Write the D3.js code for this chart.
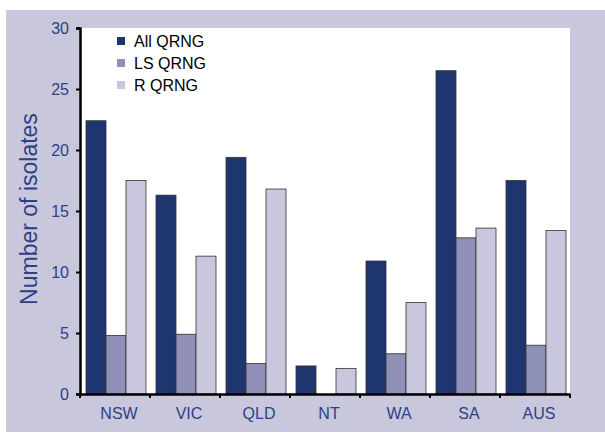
<!DOCTYPE html>
<html>
<head>
<meta charset="utf-8">
<script src="https://cdn.jsdelivr.net/npm/d3@7"></script>
<style>
body { margin: 0; background: #fff; }
text { font-family: "Liberation Sans", Arial, sans-serif; }
</style>
</head>
<body>
<div id="chart"></div>
<script>
var width = 605,
	height = 433;

var categories = ["NSW", "VIC", "QLD", "NT", "WA", "SA", "AUS"];
var seriesNames = ["All QRNG", "LS QRNG", "R QRNG"];
var allQrng = [22.4, 16.3, 19.4, 2.3, 10.9, 26.5, 17.5];
var lsQrng = [4.8, 4.9, 2.5, 0, 3.3, 12.8, 4.0];
var rQrng = [17.5, 11.3, 16.8, 2.1, 7.5, 13.6, 13.4];
var yTicks = [0, 5, 10, 15, 20, 25, 30];

var colors = ["#1f3570", "#8f90b7", "#c8c7dd"];
var series = [allQrng, lsQrng, rQrng];

var plot = {left: 80, right: 570, top: 28, bottom: 394};

var svg = d3.select("#chart").append("svg")
	.attr("width", width)
	.attr("height", height);

// lavender frame
svg.append("rect")
	.attr("x", 6)
	.attr("y", 10)
	.attr("width", width - 6)
	.attr("height", 422)
	.attr("fill", "#c8c7dc");

svg.append("rect")
	.attr("x", plot.left)
	.attr("y", plot.top)
	.attr("width", plot.right - plot.left)
	.attr("height", plot.bottom - plot.top)
	.attr("fill", "#fff");

var x = d3.scaleBand()
	.domain(categories)
	.range([plot.left, plot.right]);

var y = d3.scaleLinear()
	.domain([0, 30])
	.range([plot.bottom, plot.top]);

var sub = d3.scaleBand()
	.domain(d3.range(series.length))
	.range([6, x.bandwidth() - 4]);

var groups = svg.append("g")
	.selectAll("g")
	.data(categories)
	.enter()
	.append("g")
	.attr("transform", function(d) { return "translate(" + x(d) + ",0)"; });

groups.selectAll("rect")
	.data(function(d, i) {
		return series.map(function(s, k) { return {k: k, v: s[i]}; });
	})
	.enter()
	.append("rect")
	.attr("x", function(d) { return sub(d.k); })
	.attr("y", function(d) { return y(d.v); })
	.attr("width", sub.bandwidth())
	.attr("height", function(d) { return y(0) - y(d.v); })
	.attr("fill", function(d) { return colors[d.k]; })
	.attr("stroke", "#333")
	.attr("stroke-width", 0.8);

// y axis
var yAxis = svg.append("g")
	.attr("transform", "translate(" + plot.left + ",0)")
	.call(d3.axisLeft(y).tickValues(yTicks).tickSize(4).tickPadding(7));
yAxis.select(".domain").attr("stroke", "#000").attr("stroke-width", 2.5);
yAxis.selectAll(".tick line").attr("stroke", "#000").attr("stroke-width", 2);
yAxis.selectAll("text")
	.attr("fill", "#2e3f86")
	.style("font-size", "16px");

// x axis
var xAxis = svg.append("g")
	.attr("transform", "translate(0," + plot.bottom + ")")
	.call(d3.axisBottom(x).tickSize(0).tickPadding(14));
xAxis.select(".domain").attr("stroke", "#000").attr("stroke-width", 2.5);
xAxis.selectAll("text")
	.attr("dx", 4)
	.attr("fill", "#2e3f86")
	.style("font-size", "16px");

xAxis.selectAll("line.sep")
	.data(categories.concat(["end"]))
	.enter()
	.append("line")
	.attr("class", "sep")
	.attr("x1", function(d, i) { return plot.left + i * x.step(); })
	.attr("x2", function(d, i) { return plot.left + i * x.step(); })
	.attr("y1", 0)
	.attr("y2", 4)
	.attr("stroke", "#000")
	.attr("stroke-width", 2);

svg.append("text")
	.attr("transform", "translate(37,209) rotate(-90)")
	.attr("text-anchor", "middle")
	.attr("fill", "#2e3f86")
	.style("font-size", "23px")
	.text("Number of isolates");

// legend
var legend = svg.append("g")
	.selectAll("g")
	.data(seriesNames)
	.enter()
	.append("g")
	.attr("transform", function(d, i) { return "translate(117," + (41 + i * 22) + ")"; });

legend.append("rect")
	.attr("x", 0)
	.attr("y", -4)
	.attr("width", 8)
	.attr("height", 8)
	.attr("fill", function(d, i) { return colors[i]; });

legend.append("text")
	.attr("x", 17)
	.attr("y", 6)
	.attr("fill", "#000")
	.style("font-size", "16px")
	.text(function(d) { return d; });
</script>
</body>
</html>
